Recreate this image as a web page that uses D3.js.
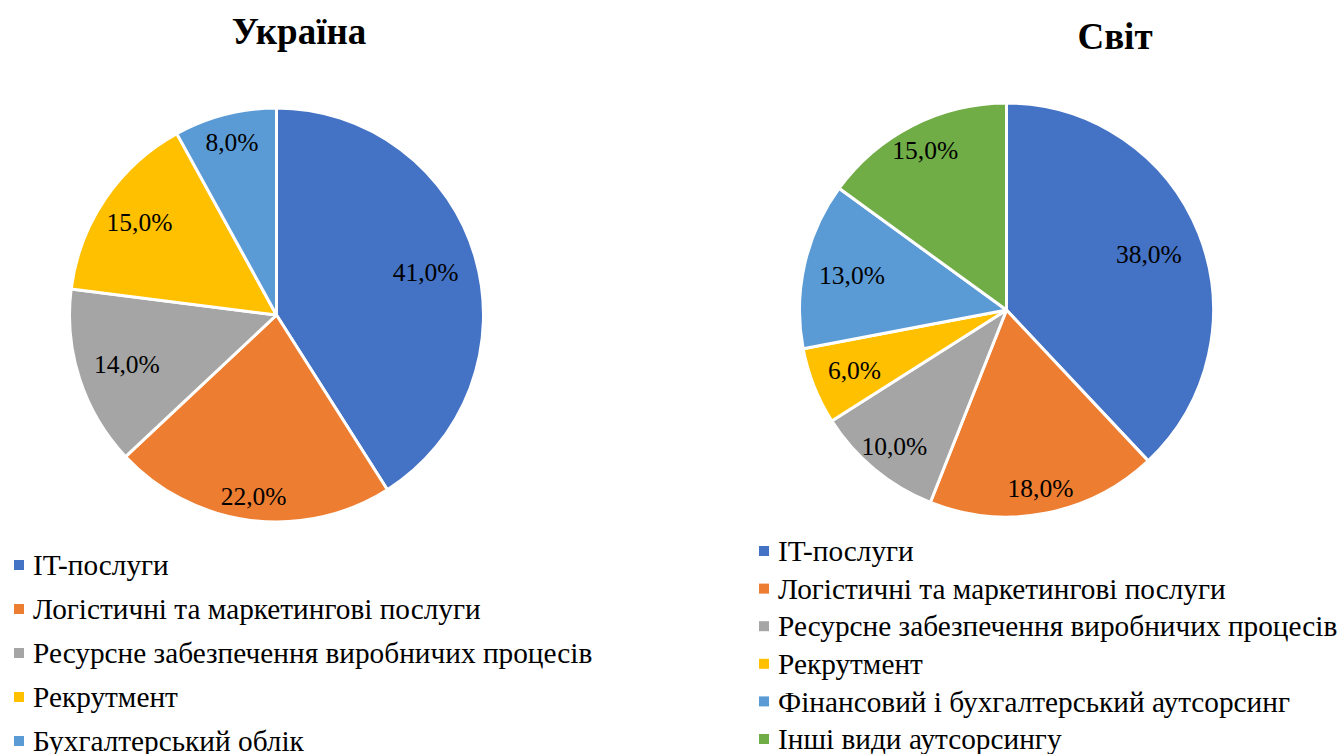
<!DOCTYPE html>
<meta charset="utf-8">
<head>
  <title>Аутсорсинг</title>
  <style>
    body { margin: 0; background: #fff; }
  </style>
  <script src="https://d3js.org/d3.v7.min.js"></script>
</head>
<body>
  <div id="content"></div>
  <script>
    // data
    var uaCategories = ['IT-послуги', 'Логістичні та маркетингові послуги',
      'Ресурсне забезпечення виробничих процесів', 'Рекрутмент', 'Бухгалтерський облік'];
    var uaValues = [41, 22, 14, 15, 8];

    var worldCategories = ['IT-послуги', 'Логістичні та маркетингові послуги',
      'Ресурсне забезпечення виробничих процесів', 'Рекрутмент',
      'Фінансовий і бухгалтерський аутсорсинг', 'Інші види аутсорсингу'];
    var worldValues = [38, 18, 10, 6, 13, 15];

    var colors = ['#4472C4', '#ED7D31', '#A5A5A5', '#FFC000', '#5B9BD5', '#70AD47'];

    // label distance from centre, as a share of the radius (best-fit layout)
    var uaLabelPos = [0.75, 0.88, 0.76, 0.8, 0.865];
    var worldLabelPos = [0.74, 0.875, 0.85, 0.79, 0.765, 0.865];

    var FONT = '"Liberation Serif", "Times New Roman", serif';

    var svg = d3.select('#content').append('svg')
      .attr('width', 1343)
      .attr('height', 754)
      .attr('font-family', FONT);

    var fmt = function (v) { return v.toFixed(1).replace('.', ',') + '%'; };

    function drawPie(opts) {
      var r = opts.r;
      var g = svg.append('g').attr('transform', 'translate(' + opts.cx + ',' + opts.cy + ')');
      var pie = d3.pie().sort(null).value(function (d) { return d; });
      var arcs = pie(opts.values);
      var arc = d3.arc().innerRadius(0).outerRadius(r);

      g.selectAll('path').data(arcs).enter().append('path')
        .attr('d', arc)
        .attr('fill', function (d, i) { return colors[i]; })
        .attr('stroke', '#fff')
        .attr('stroke-width', 3)
        .attr('stroke-linejoin', 'round');

      g.selectAll('text.lbl').data(arcs).enter().append('text')
        .attr('class', 'lbl')
        .attr('transform', function (d, i) {
          var lr = r * opts.labelPos[i];
          var c = d3.arc().innerRadius(lr).outerRadius(lr).centroid(d);
          return 'translate(' + c + ')';
        })
        .attr('text-anchor', 'middle')
        .attr('dy', '0.35em')
        .attr('font-family', FONT)
        .attr('font-size', 25.5)
        .text(function (d) { return fmt(d.data); });

      svg.append('text')
        .attr('x', opts.titleX).attr('y', opts.titleY)
        .attr('text-anchor', 'middle')
        .attr('font-family', FONT)
        .attr('font-size', 37)
        .attr('font-weight', 'bold')
        .text(opts.title);

      var lg = svg.append('g').attr('transform', 'translate(' + opts.legendX + ',' + opts.legendY + ')');
      var items = lg.selectAll('g').data(opts.categories).enter().append('g')
        .attr('transform', function (d, i) { return 'translate(0,' + (i * opts.legendStep) + ')'; });
      items.append('rect')
        .attr('x', 0).attr('y', -5).attr('width', 10).attr('height', 10)
        .attr('fill', function (d, i) { return colors[i]; });
      items.append('text')
        .attr('x', 19).attr('dy', '0.35em')
        .attr('font-family', FONT)
        .attr('font-size', 29.3)
        .text(function (d) { return d; });
    }

    drawPie({
      cx: 276.5, cy: 315, r: 207,
      values: uaValues, categories: uaCategories, labelPos: uaLabelPos,
      title: 'Україна', titleX: 299, titleY: 44,
      legendX: 14, legendY: 565, legendStep: 44
    });

    drawPie({
      cx: 1006.5, cy: 310, r: 207,
      values: worldValues, categories: worldCategories, labelPos: worldLabelPos,
      title: 'Світ', titleX: 1115, titleY: 49,
      legendX: 759, legendY: 551, legendStep: 37.6
    });
  </script>
</body>
</html>
